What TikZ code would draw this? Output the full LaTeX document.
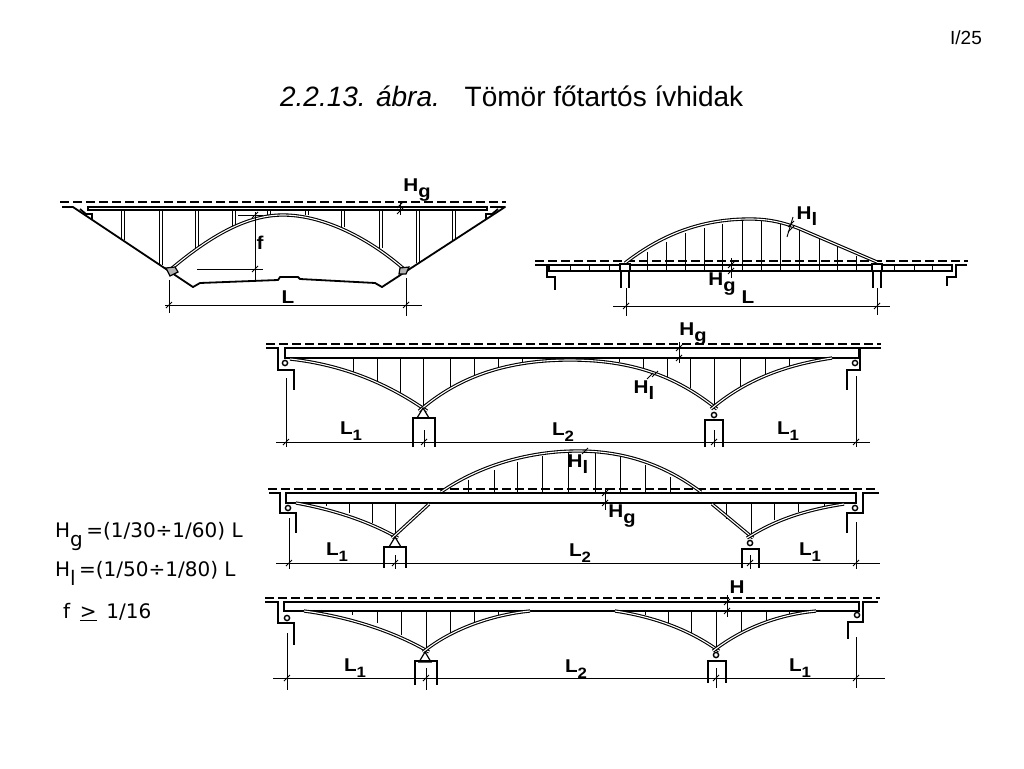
\documentclass[tikz,border=0pt]{standalone}
\usepackage{fontspec}
\setmainfont{Liberation Sans}
\newfontfamily\formulafont{DejaVu Sans}
\newfontfamily\letterfont[FakeStretch=1.12]{Liberation Sans}
\usetikzlibrary{positioning}

\newcommand{\Sub}[3][15]{#2\raisebox{-5.5pt}{\fontsize{#1}{#1}\selectfont #3}}
\newcommand{\FormSub}[2]{#1\raisebox{-9pt}{#2}}

\tikzset{
  deck/.style={draw=black, line width=1.2pt, fill=white},
  ground/.style={draw=black, line width=1.8pt, line join=round},
  abutment/.style={draw=black, line width=1.7pt},
  axisline/.style={draw=black, line width=1.1pt, dash pattern=on 9pt off 4pt},
  arch/.style={draw=black, line width=1.1pt, double=white, double distance=1.1pt},
  hanger/.style={draw=black, line width=.8pt},
  pillar/.style={draw=black, line width=.9pt, double=white, double distance=1.3pt},
  dimline/.style={draw=black, line width=.9pt},
  letter/.style={inner sep=0pt, font=\letterfont\fontsize{18.5}{18}\selectfont\bfseries},
  formula/.style={inner sep=0pt, anchor=west, font=\formulafont\fontsize{20}{20}\selectfont},
  slashmark/.pic={\draw[line width=.9pt] (-3,3) -- (3,-3);},
  roller/.pic={\draw[line width=1.4pt, fill=white] (0,0) circle (2.6pt);},
  rocker/.pic={\draw[line width=1.2pt, fill=white] (0,-5) -- (-6,5) -- (6,5) -- cycle;}
}

\begin{document}
\begin{tikzpicture}[x=1pt, y=-1pt]
  \useasboundingbox (0,0) rectangle (1024,768);

  % page heading
  \node[inner sep=0pt, font=\fontsize{19}{19}\selectfont] (pageno) at (966,38) {I/25};
  \node[inner sep=0pt, font=\fontsize{28}{28}\selectfont\itshape] (figno) at (360,96) {2.2.13. ábra.};
  \node[inner sep=0pt, font=\fontsize{28}{28}\selectfont] (figtitle) at (604,96) {Tömör főtartós ívhidak};

  % formulas
  \node[formula] (formHg) at (55,536) {\FormSub{H}{g}\,=(1/30÷1/60) L};
  \node[formula] (formHl) at (55,573) {\FormSub{H}{l}\,=(1/50÷1/80) L};
  \node[formula] (formf) at (63,612) {f \,\underline{>}\, 1/16};

  % valley arch
  \draw[axisline] (60,202) -- (506,202);
  \foreach \x/\y in {123/240,161/265,197/248,234/227,269/215,307/215,343/227,381/248,418/263,454/240}
    \draw[pillar] (\x,210) -- (\x,\y);
  \draw[deck] (88,207) rectangle (487,210);
  \draw[ground] (62,207) -- (73,207) -- (193,287) -- (200,283) -- (278,280) -- (280,277) -- (298,277)
    -- (300,279) -- (375,283) -- (382,287) -- (505,207) -- (490,207);
  \draw[abutment] (80,209) -- (86,214) -- (92,214) -- (92,219);
  \draw[abutment] (498,209) -- (492,214) -- (486,214) -- (486,219);
  \draw[arch] (171,269) .. controls (215,232) and (250,215) .. (283,215)
    .. controls (320,215) and (365,235) .. (404,269);
  \draw[line width=1.2pt, fill=black!30] (166,268) -- (175,267) -- (178,272) -- (170,276) -- cycle;
  \draw[line width=1.2pt, fill=black!30] (400,268) -- (409,267) -- (406,274) -- (399,274) -- cycle;
  \draw[dimline] (238,215) -- (263,215);
  \draw[dimline] (197,269) -- (263,269);
  \draw[dimline] (255,212) -- (255,280);
  \draw[dimline] (165,305) -- (422,305);
  \draw[dimline] (169,280) -- (169,313);
  \draw[dimline] (406,278) -- (406,316);
  \draw[dimline] (400,202) -- (400,215);
  \foreach \x/\y in {169/305,406/305,255/215,255/269,400/205,400/211}
    \pic at (\x,\y) {slashmark};
  \node[letter] (fvalley) at (260,243) {f};
  \node[letter] (Lvalley) at (288,297) {L};
  \node[letter] (Hgvalley) at (417,190) {\Sub[18]{H}{g}};

  % tied arch
  \draw[axisline] (535,261) -- (968,261);
  \draw[deck] (549,265) rectangle (952,271);
  \foreach \x in {570,589,609,894,914,932}
    \draw[hanger] (\x,265) -- (\x,271);
  \foreach \x/\y in {647/252,666/242,685/233,704/228,722/224,742/221,761/221,780/224,799/230,819/238,837/247,856/256}
    \draw[hanger] (\x,\y) -- (\x,271);
  \draw[arch] (625,263) .. controls (665,232) and (705,219) .. (750,219)
    .. controls (770,219) and (785,223) .. (800,229) -- (877,262);
  \foreach \x in {625,877} {
    \draw[abutment, fill=white] (\x-5,264) rectangle (\x+5,271);
    \draw[abutment] (\x-4,271) -- (\x-4,288);
    \draw[abutment] (\x+4,271) -- (\x+4,288);
  }
  \draw[abutment] (535,265) -- (547,265) -- (547,277) -- (555,277) -- (555,290);
  \draw[abutment] (967,265) -- (956,265) -- (956,277) -- (947,277) -- (947,286);
  \draw[dimline] (613,306) -- (890,306);
  \draw[dimline] (626,288) -- (626,316);
  \draw[dimline] (877,288) -- (877,315);
  \draw[dimline] (731,258) -- (731,278);
  \draw[dimline] (787,237) -- (793,217);
  \foreach \x/\y in {626/306,877/306,731/265,731/271,791/224,791/229}
    \pic at (\x,\y) {slashmark};
  \node[letter] (Ltied) at (748,297) {L};
  \node[letter] (Hgtied) at (722,284) {\Sub[18]{H}{g}};
  \node[letter] (Hltied) at (807,216) {\Sub[18]{H}{l}};

  % three arches under the deck
  \draw[axisline] (266,344) -- (881,344);
  \foreach \x/\y in {353/373,377/382,400/395,423/407,450/388,474/376,498/368,522/362,619/362,643/368,667/377,690/388,714/406,740/388,765/377,789/367}
    \draw[hanger] (\x,358) -- (\x,\y);
  \draw[deck] (285,348) rectangle (859,358);
  \draw[arch] (290,359) .. controls (345,365) and (390,385) .. (427,411);
  \draw[arch] (419,411) .. controls (460,375) and (510,360) .. (570,360)
    .. controls (630,360) and (675,375) .. (717,409);
  \draw[arch] (711,409) .. controls (745,380) and (785,365) .. (832,358);
  \draw[abutment] (266,348) -- (278,348) -- (278,370) -- (294,370) -- (294,390);
  \draw[abutment] (881,348) -- (860,348) -- (860,370) -- (847,370) -- (847,390);
  \pic at (285,363) {roller};
  \pic at (855,363) {roller};
  \pic at (423,413) {rocker};
  \pic at (714,415) {roller};
  \draw[abutment] (413,447) -- (413,418) -- (435,418) -- (435,447);
  \draw[abutment] (705,447) -- (705,420) -- (723,420) -- (723,447);
  \draw[dimline] (276,442) -- (870,442);
  \draw[dimline] (286,378) -- (286,447);
  \draw[dimline] (856,376) -- (856,447);
  \draw[dimline] (424,430) -- (424,447);
  \draw[dimline] (714,430) -- (714,447);
  \draw[dimline] (679,342) -- (679,363);
  \foreach \x/\y in {286/442,424/442,714/442,856/442,679/348,679/358,650/376,655/374}
    \pic at (\x,\y) {slashmark};
  \node[letter] (LaA) at (351,431) {\Sub{L}{1}};
  \node[letter] (LbA) at (563,432) {\Sub{L}{2}};
  \node[letter] (LcA) at (788,431) {\Sub{L}{1}};
  \node[letter] (HgA) at (693,334) {\Sub[18]{H}{g}};
  \node[letter] (HlA) at (644,390) {\Sub[18]{H}{l}};

  % through arch in the middle span
  \draw[axisline] (268,489) -- (877,489);
  \foreach \x/\y in {468/480,494/470,517/462,542/456,568/453,595/453,620/457,645/465,670/477}
    \draw[hanger] (\x,\y) -- (\x,493);
  \foreach \x/\y in {326/506,349/513,372/523,395/535,726/519,751/535,774/520,798/512,824/506}
    \draw[hanger] (\x,503) -- (\x,\y);
  \draw[arch] (441,492) .. controls (480,465) and (530,451) .. (578,451)
    .. controls (625,451) and (665,465) .. (701,492);
  \draw[deck] (286,493) rectangle (856,503);
  \draw[arch] (296,503) .. controls (335,510) and (370,522) .. (398,538);
  \draw[arch] (392,538) -- (429,504);
  \draw[arch] (712,504) -- (753,538);
  \draw[arch] (747,538) .. controls (775,520) and (805,510) .. (844,504);
  \draw[abutment] (269,493) -- (280,493) -- (280,513) -- (296,513) -- (296,533);
  \draw[abutment] (879,493) -- (863,493) -- (863,513) -- (847,513) -- (847,533);
  \pic at (288,508) {roller};
  \pic at (855,508) {roller};
  \pic at (395,542) {rocker};
  \pic at (750,543) {roller};
  \draw[abutment] (384,568) -- (384,547) -- (406,547) -- (406,568);
  \draw[abutment] (742,568) -- (742,549) -- (759,549) -- (759,568);
  \draw[dimline] (276,563) -- (880,563);
  \draw[dimline] (289,518) -- (289,569);
  \draw[dimline] (856,522) -- (856,569);
  \draw[dimline] (395,555) -- (395,569);
  \draw[dimline] (750,555) -- (750,569);
  \draw[dimline] (605,488) -- (605,510);
  \foreach \x/\y in {289/563,395/563,750/563,856/563,605/493,605/503,585/451}
    \pic at (\x,\y) {slashmark};
  \node[letter] (LaB) at (337,552) {\Sub{L}{1}};
  \node[letter] (LbB) at (580,553) {\Sub{L}{2}};
  \node[letter] (LcB) at (810,552) {\Sub{L}{1}};
  \node[letter] (HgB) at (622,516) {\Sub[18]{H}{g}};
  \node[letter] (HlB) at (578,464) {\Sub[18]{H}{l}};

  % haunched arches, no middle arch
  \draw[axisline] (265,598) -- (880,598);
  \foreach \x/\y in {352/615,377/623,401/635,426/649,450/635,474/623,498/615,645/615,668/623,691/633,716/648,741/633,766/622,789/615}
    \draw[hanger] (\x,611) -- (\x,\y);
  \draw[deck] (284,602) rectangle (859,611);
  \draw[arch] (304,611) .. controls (350,617) and (395,632) .. (429,652);
  \draw[arch] (423,652) .. controls (450,630) and (490,615) .. (530,611);
  \draw[arch] (615,611) .. controls (655,617) and (690,630) .. (719,651);
  \draw[arch] (713,651) .. controls (740,630) and (775,615) .. (816,611);
  \draw[abutment] (265,602) -- (278,602) -- (278,623) -- (294,623) -- (294,645);
  \draw[abutment] (878,602) -- (863,602) -- (863,622) -- (848,622) -- (848,639);
  \pic at (287,618) {roller};
  \pic at (857,615) {roller};
  \pic at (425,657) {rocker};
  \pic at (716,655) {roller};
  \draw[abutment] (415,685) -- (415,661) -- (437,661) -- (437,685);
  \draw[abutment] (708,683) -- (708,661) -- (726,661) -- (726,683);
  \draw[dimline] (273,678) -- (885,678);
  \draw[dimline] (287,633) -- (287,690);
  \draw[dimline] (856,637) -- (856,688);
  \draw[dimline] (426,668) -- (426,690);
  \draw[dimline] (716,668) -- (716,688);
  \draw[dimline] (727,595) -- (727,617);
  \foreach \x/\y in {287/678,426/678,716/678,856/678,727/602,727/611}
    \pic at (\x,\y) {slashmark};
  \node[letter] (LaC) at (355,668) {\Sub{L}{1}};
  \node[letter] (LbC) at (576,669) {\Sub{L}{2}};
  \node[letter] (LcC) at (800,668) {\Sub{L}{1}};
  \node[letter] (HC) at (737,587) {H};
\end{tikzpicture}
\end{document}
